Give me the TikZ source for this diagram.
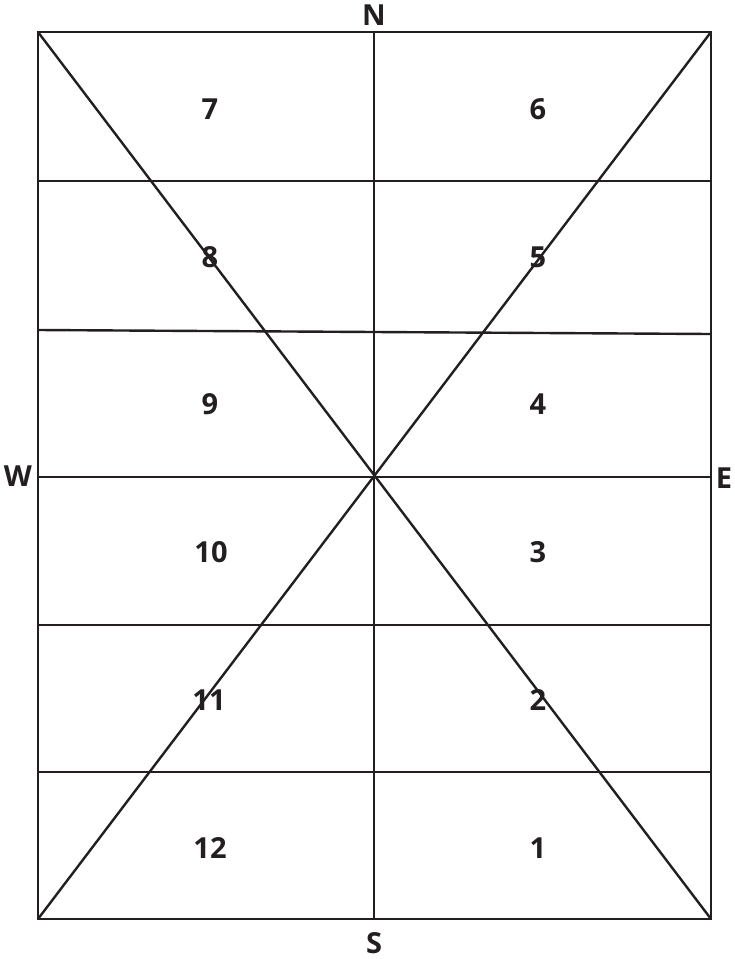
\documentclass[tikz,border=0pt]{standalone}
\usepackage{fontspec}
\setmainfont{Open Sans}
\usepackage{tikz}
\usetikzlibrary{positioning}
\definecolor{inkc}{HTML}{231F20}

\begin{document}
\begin{tikzpicture}[x=1pt, y=-1pt,
        edge/.style={draw=inkc, line width=2.4pt},
        house/.style={font=\fontsize{29}{34}\selectfont\bfseries, text=inkc, inner sep=0pt},
        dir/.style={font=\fontsize{29}{34}\selectfont\bfseries, text=inkc, inner sep=0pt}]
      \useasboundingbox (0,0) rectangle (735,959);
      % frame corners
      \coordinate (nw) at (38,32);
      \coordinate (ne) at (711,32);
      \coordinate (sw) at (38,919);
      \coordinate (se) at (711,919);
      \coordinate (n) at (374,32);
      \coordinate (s) at (374,919);
      % rows
      \coordinate (w1) at (38,181);  \coordinate (e1) at (711,181);
      \coordinate (w2) at (38,330);  \coordinate (e2) at (711,334);
      \coordinate (w3) at (38,477);  \coordinate (e3) at (711,477);
      \coordinate (w4) at (38,625);  \coordinate (e4) at (711,625);
      \coordinate (w5) at (38,772);  \coordinate (e5) at (711,772);
      % directions
      \node[dir] (north) at (374,15) {N};
      \node[dir] (south) at (374,943) {S};
      \node[dir] (west) at (18,476) {W};
      \node[dir] (east) at (724,478) {E};
      % houses
      \node[house] (h7) at (210,109) {7};
      \node[house] (h6) at (538,109) {6};
      \node[house] (h8) at (210,257) {8};
      \node[house] (h5) at (538,257) {5};
      \node[house] (h9) at (210,404) {9};
      \node[house] (h4) at (538,404) {4};
      \node[house] (h10) at (211,552) {10};
      \node[house] (h3) at (538,552) {3};
      \node[house] (h11) at (209,700) {11};
      \node[house] (h2) at (538,700) {2};
      \node[house] (h12) at (210,848) {12};
      \node[house] (h1) at (538,848) {1};
      % lines
      \draw[edge] (nw) -- (ne) -- (se) -- (sw) -- cycle;
      \draw[edge] (n) -- (s);
      \draw[edge] (w1) -- (e1);
      \draw[edge] (w2) -- (e2);
      \draw[edge] (w3) -- (e3);
      \draw[edge] (w4) -- (e4);
      \draw[edge] (w5) -- (e5);
      \draw[edge] (nw) -- (se);
      \draw[edge] (ne) -- (sw);
    \end{tikzpicture}
\end{document}
